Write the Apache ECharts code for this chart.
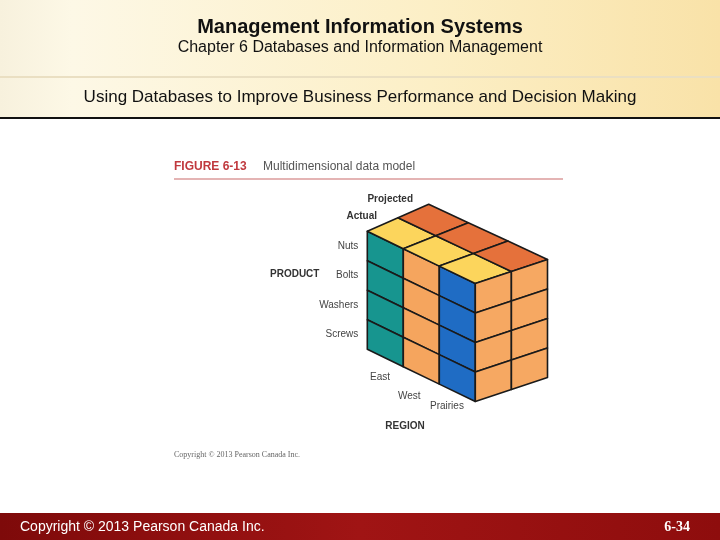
<!DOCTYPE html>
<html>
<head>
<meta charset="UTF-8">
<script src="https://cdn.jsdelivr.net/npm/echarts@6/dist/echarts.min.js"></script>
<style>html,body{margin:0;padding:0;background:#fff}#main{width:720px;height:540px}</style>
</head>
<body>
<div id="main"></div>
<script>
// cube dimensions
var regions = ['East', 'West', 'Prairies'];
var products = ['Nuts', 'Bolts', 'Washers', 'Screws'];
var measures = ['Actual', 'Projected'];
var regionColors = ['#17958f', '#f5a55e', '#1f6cc4'];
var measureColors = ['#fcd55c', '#e5713b'];
var sideColor = '#f6a862';

// projection: r along region, d along depth, h down the products
var O = [367.3, 231.3];
function proj(r, d, h) {
  return [O[0] + 36 * r + (30.7 + 1.8 * r) * d, O[1] + 17.4 * r - (13.5 - 0.5 * r) * d + 29.5 * h];
}

// build the face cells from the dimension arrays
var cells = [];
regions.forEach(function (rg, r) {
  products.forEach(function (p, h) {
    cells.push({ value: [r, 0, h, 0], face: 'front', color: regionColors[r] });
  });
  measures.forEach(function (m, d) {
    cells.push({ value: [r, d, 0, 0], face: 'top', color: measureColors[d] });
  });
});
measures.forEach(function (m, d) {
  products.forEach(function (p, h) {
    cells.push({ value: [regions.length, d, h, 0], face: 'side', color: sideColor });
  });
});

var chart = echarts.init(document.getElementById('main'));
var font = '"Liberation Sans", Arial, sans-serif';

function txt(x, y, s, size, opt) {
  return Object.assign({ type: 'text', x: x, y: y, z: 10,
    style: Object.assign({ text: s, font: size + 'px ' + font, fill: '#333', textVerticalAlign: 'middle' }, opt || {}) });
}

var g = [
  { type: 'rect', shape: { x: 0, y: 0, width: 720, height: 118 }, z: 0,
    style: { fill: new echarts.graphic.LinearGradient(0, 0, 1, 0, [
      { offset: 0, color: '#f7f1dd' }, { offset: 0.1, color: '#fdf8e6' }, { offset: 0.6, color: '#fcefc6' }, { offset: 1, color: '#f9e2a8' }]) } },
  { type: 'rect', shape: { x: 0, y: 76, width: 720, height: 2 }, z: 1, style: { fill: '#eadfc2' } },
  { type: 'rect', shape: { x: 0, y: 117, width: 720, height: 2 }, z: 1, style: { fill: '#111' } },
  txt(360, 27, 'Management Information Systems', 20, { textAlign: 'center', font: 'bold 20px ' + font, fill: '#111' }),
  txt(360, 48, 'Chapter 6 Databases and Information Management', 16, { textAlign: 'center', fill: '#111' }),
  txt(360, 97, 'Using Databases to Improve Business Performance and Decision Making', 17, { textAlign: 'center', fill: '#111' }),
  // figure header
  txt(174, 167, 'FIGURE 6-13', 12, { font: 'bold 12px ' + font, fill: '#c0393e' }),
  txt(263, 167, 'Multidimensional data model', 12, { fill: '#555' }),
  { type: 'rect', shape: { x: 174, y: 178.5, width: 389, height: 1 }, z: 1, style: { fill: '#c96a6a' } },
  txt(270, 274, 'PRODUCT', 10, { font: 'bold 10px ' + font }),
  txt(405, 426, 'REGION', 10, { font: 'bold 10px ' + font, textAlign: 'center' }),
  txt(174, 455, 'Copyright \u00a9 2013 Pearson Canada Inc.', 8, { fill: '#666', font: '8px "Liberation Serif", serif' }),
  // footer
  { type: 'rect', shape: { x: 0, y: 513, width: 720, height: 27 }, z: 1,
    style: { fill: new echarts.graphic.LinearGradient(0, 0, 1, 0, [
      { offset: 0, color: '#7e0a0a' }, { offset: 0.5, color: '#a01414' }, { offset: 1, color: '#8e0d0d' }]) } },
  txt(20, 527, 'Copyright \u00a9 2013 Pearson Canada Inc.', 14, { fill: '#fff' }),
  txt(690, 527, '6-34', 14, { fill: '#fff', textAlign: 'right', font: 'bold 14px "Liberation Serif", serif' })
];

// measure labels above the top face
g.push(txt(413, 199, measures[1], 10, { font: 'bold 10px ' + font, textAlign: 'right' }));
g.push(txt(377, 216, measures[0], 10, { font: 'bold 10px ' + font, textAlign: 'right' }));
// product labels by rows
products.forEach(function (p, h) {
  var pt = proj(0, 0, h + 0.5);
  g.push(txt(pt[0] - 9, pt[1], p, 10, { textAlign: 'right', fill: '#444' }));
});
// region labels under the front face
var regPos = [[370, 377], [398, 396], [430, 406]];
regions.forEach(function (rg, r) {
  g.push(txt(regPos[r][0], regPos[r][1], rg, 10, { fill: '#444' }));
});

chart.setOption({
  animation: false,
  grid: { left: 0, top: 0, width: 720, height: 540 },
  xAxis: { type: 'value', min: 0, max: 720, show: false },
  yAxis: { type: 'value', min: 0, max: 540, inverse: true, show: false },
  graphic: g,
  series: [{
    type: 'custom',
    coordinateSystem: 'cartesian2d',
    z: 5,
    data: cells,
    renderItem: function (params, api) {
      var c = cells[params.dataIndex];
      var r = api.value(0), d = api.value(1), h = api.value(2);
      var pts;
      if (c.face === 'front') pts = [proj(r, d, h), proj(r + 1, d, h), proj(r + 1, d, h + 1), proj(r, d, h + 1)];
      else if (c.face === 'top') pts = [proj(r, d, h), proj(r + 1, d, h), proj(r + 1, d + 1, h), proj(r, d + 1, h)];
      else pts = [proj(r, d, h), proj(r, d + 1, h), proj(r, d + 1, h + 1), proj(r, d, h + 1)];
      return {
        type: 'polygon',
        shape: { points: pts.map(function (p) { return api.coord(p); }) },
        style: { fill: c.color, stroke: '#1a1a1a', lineWidth: 1.6, lineJoin: 'round' }
      };
    }
  }]
});
</script>
</body>
</html>
